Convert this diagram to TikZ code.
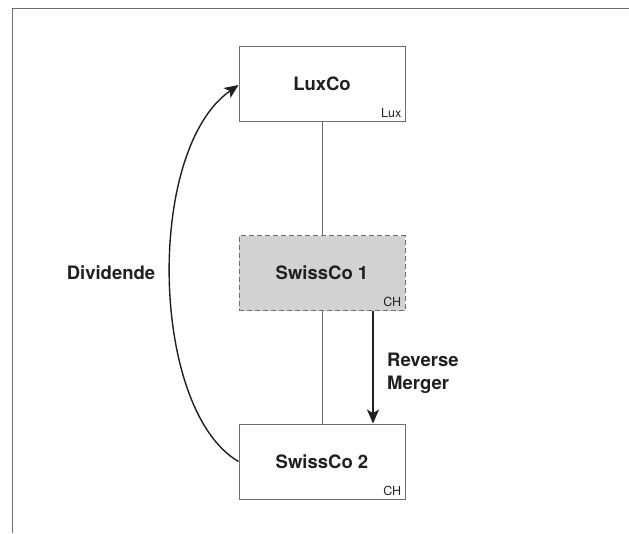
\documentclass[tikz,border=0pt]{standalone}
\usepackage{fontspec}
\setmainfont{TeX Gyre Heros}
\usetikzlibrary{calc,arrows.meta}
\definecolor{ink}{HTML}{231F20}
\definecolor{frame}{HTML}{6D6E70}
\definecolor{shade}{HTML}{D1D2D4}
\tikzset{
  entity/.style={draw=frame, line width=0.9pt, fill=white, minimum width=166pt, minimum height=75pt,
    inner sep=0pt, text=ink, font=\fontsize{18.5}{22}\selectfont\bfseries},
  ghost/.style={entity, fill=shade, dashed, dash pattern=on 5pt off 3pt},
  country/.style={anchor=base east, inner sep=0pt, text=ink, font=\fontsize{12.5}{14}\selectfont},
  link/.style={draw=frame, line width=0.8pt},
  flow/.style={draw=ink, line width=1.4pt, -{Stealth[length=14pt, width=12pt, inset=3.5pt]}},
  caption/.style={text=ink, font=\fontsize{18.5}{23}\selectfont\bfseries, inner sep=0pt}
}
\begin{document}
\begin{tikzpicture}[x=1pt, y=-1pt]
  \useasboundingbox (0,0) rectangle (629,533);
  % outer frame (top and left edges only)
  \draw[frame, line width=1pt] (12,533) -- (12,8) -- (629,8);

  % entities
  \node[entity] (lux) at (322,83.5) {LuxCo};
  \node[ghost]  (s1)  at (322,273) {SwissCo 1};
  \node[entity] (s2)  at (322,461.5) {SwissCo 2};

  % jurisdictions
  \node[country] (luxc) at ($(lux.south east)+(-4,-4.3)$) {Lux};
  \node[country] (s1c)  at ($(s1.south east)+(-4,-4.3)$) {CH};
  \node[country] (s2c)  at ($(s2.south east)+(-4,-4.3)$) {CH};

  % ownership links
  \draw[link] (lux.south) -- (s1.north);
  \draw[link] (s1.south) -- (s2.north);

  % reverse merger
  \coordinate (rmA) at ($(s1.south)+(51,0)$);
  \coordinate (rmB) at ($(s2.north)+(51,0)$);
  \draw[flow] (rmA) -- (rmB);
  \node[caption, anchor=west, align=left] (rml) at (387,373.5) {Reverse\\Merger};

  % dividend
  \coordinate (dvA) at ($(s2.west)+(0,0)$);
  \coordinate (dvB) at ($(lux.west)+(0,1.5)$);
  \draw[flow] (dvA) .. controls (150,410) and (145,150) .. (dvB);
  \node[caption] (dvl) at (111,273) {Dividende};
\end{tikzpicture}
\end{document}
